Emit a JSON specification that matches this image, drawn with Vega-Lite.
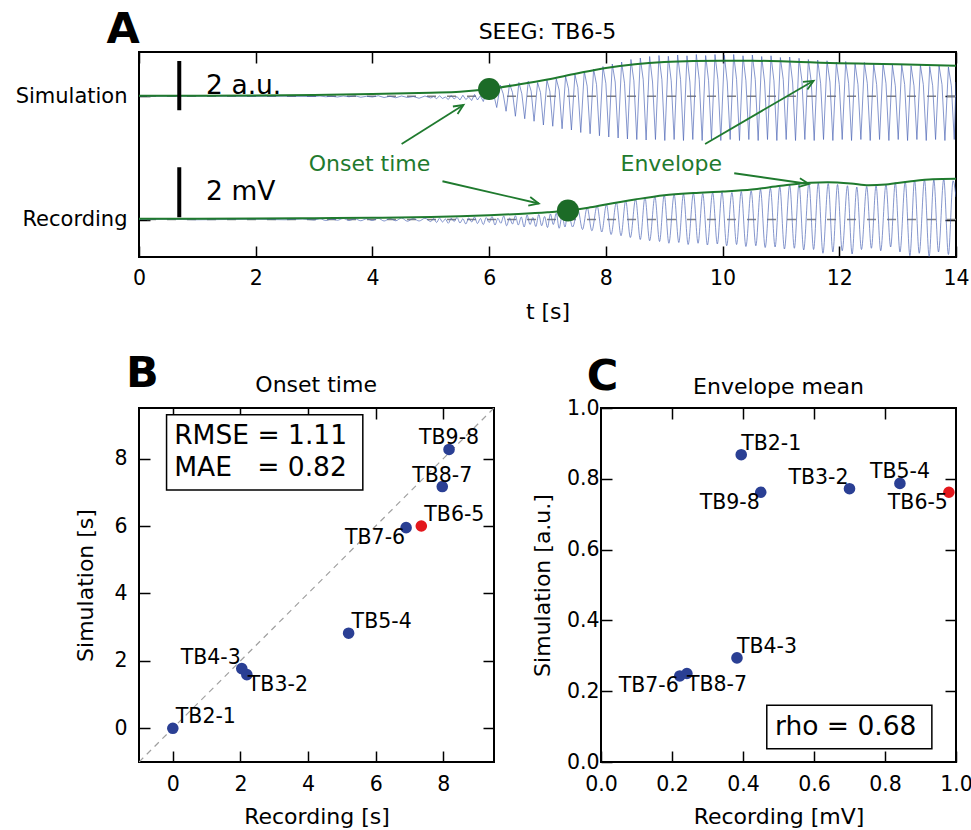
{
  "$schema": "https://vega.github.io/schema/vega-lite/v6.json",
  "background": "white",
  "padding": {"left": 14, "top": 7, "right": 0, "bottom": 0},
  "config": {
    "font": "DejaVu Sans",
    "view": {"stroke": "#000000", "strokeWidth": 2},
    "axis": {"domain": false, "grid": false, "ticks": true, "tickColor": "#000000", "tickWidth": 1.5, "tickSize": -11, "labelColor": "#000000", "labelFontSize": 20.5, "labelPadding": 23, "labelFlush": false, "labelOverlap": false, "titleColor": "#000000", "titleFontSize": 22, "titleFontWeight": "normal"}
  },
  "datasets": {
    "sim": [
      {"t":0,"v":4.93},{"t":0.5,"v":4.93},{"t":1,"v":4.935},{"t":1.5,"v":4.93},{"t":2,"v":4.925},{"t":2.5,"v":4.93},{"t":3,"v":4.92},
      {"t":3.1,"v":4.94},{"t":3.2,"v":4.91},{"t":3.3,"v":4.93},{"t":3.4,"v":4.9},{"t":3.5,"v":4.94},{"t":3.6,"v":4.91},{"t":3.7,"v":4.95},{"t":3.8,"v":4.89},{"t":3.9,"v":4.93},{"t":4,"v":4.9},{"t":4.1,"v":4.95},{"t":4.2,"v":4.88},{"t":4.3,"v":4.93},{"t":4.4,"v":4.87},{"t":4.5,"v":4.94},{"t":4.6,"v":4.88},{"t":4.7,"v":4.92},{"t":4.8,"v":4.85},{"t":4.9,"v":4.94},{"t":5,"v":4.86},
      {"t":5.05,"v":4.92},{"t":5.1,"v":4.83},{"t":5.15,"v":4.95},{"t":5.2,"v":4.84},{"t":5.25,"v":4.9},{"t":5.3,"v":4.8},{"t":5.35,"v":4.96},{"t":5.4,"v":4.82},{"t":5.45,"v":4.92},{"t":5.5,"v":4.78},{"t":5.55,"v":4.97},{"t":5.6,"v":4.8},{"t":5.65,"v":4.9},{"t":5.7,"v":4.76},{"t":5.75,"v":5.0},{"t":5.8,"v":4.78},{"t":5.85,"v":4.95},{"t":5.9,"v":4.72},{"t":5.95,"v":5.08},{"t":6,"v":4.8},
      {"t":6.03,"v":5.28},{"t":6.08,"v":4.98},{"t":6.13,"v":4.48},
      {"t":6.19,"v":5.38},{"t":6.24,"v":5.03},{"t":6.29,"v":4.33},
      {"t":6.35,"v":5.43},{"t":6.4,"v":5.08},{"t":6.45,"v":4.13},
      {"t":6.51,"v":5.48},{"t":6.56,"v":5.03},{"t":6.61,"v":4.03},
      {"t":6.67,"v":5.53},{"t":6.72,"v":5.13},{"t":6.77,"v":3.93},
      {"t":6.83,"v":5.48},{"t":6.88,"v":5.08},{"t":6.93,"v":3.78},
      {"t":6.99,"v":5.58},{"t":7.04,"v":5.13},{"t":7.09,"v":3.73},
      {"t":7.15,"v":5.63},{"t":7.2,"v":5.18},{"t":7.25,"v":3.63},
      {"t":7.31,"v":5.73},{"t":7.36,"v":5.23},{"t":7.41,"v":3.58},
      {"t":7.47,"v":5.8},{"t":7.52,"v":5.28},{"t":7.57,"v":3.48},
      {"t":7.63,"v":5.93},{"t":7.68,"v":5.33},{"t":7.73,"v":3.43},
      {"t":7.79,"v":6.02},{"t":7.84,"v":5.4},{"t":7.89,"v":3.35},
      {"t":7.95,"v":6.12},{"t":8.0,"v":5.45},{"t":8.05,"v":3.3},
      {"t":8.11,"v":6.22},{"t":8.16,"v":5.5},{"t":8.21,"v":3.26},
      {"t":8.27,"v":6.3},{"t":8.32,"v":5.45},{"t":8.37,"v":3.22},
      {"t":8.43,"v":6.4},{"t":8.48,"v":5.55},{"t":8.53,"v":3.2},
      {"t":8.59,"v":6.46},{"t":8.64,"v":5.6},{"t":8.69,"v":3.18},
      {"t":8.75,"v":6.52},{"t":8.8,"v":5.5},{"t":8.85,"v":3.2},
      {"t":8.91,"v":6.56},{"t":8.96,"v":5.6},{"t":9.01,"v":3.16},
      {"t":9.07,"v":6.53},{"t":9.12,"v":5.55},{"t":9.17,"v":3.2},
      {"t":9.23,"v":6.58},{"t":9.28,"v":5.6},{"t":9.33,"v":3.16},
      {"t":9.39,"v":6.55},{"t":9.44,"v":5.5},{"t":9.49,"v":3.2},
      {"t":9.55,"v":6.6},{"t":9.6,"v":5.6},{"t":9.65,"v":3.16},
      {"t":9.71,"v":6.56},{"t":9.76,"v":5.55},{"t":9.81,"v":3.2},
      {"t":9.87,"v":6.6},{"t":9.92,"v":5.6},{"t":9.97,"v":3.16},
      {"t":10.03,"v":6.57},{"t":10.08,"v":5.5},{"t":10.13,"v":3.2},
      {"t":10.19,"v":6.6},{"t":10.24,"v":5.6},{"t":10.29,"v":3.16},
      {"t":10.35,"v":6.55},{"t":10.4,"v":5.55},{"t":10.45,"v":3.2},
      {"t":10.51,"v":6.58},{"t":10.56,"v":5.6},{"t":10.61,"v":3.16},
      {"t":10.67,"v":6.52},{"t":10.72,"v":5.5},{"t":10.77,"v":3.2},
      {"t":10.83,"v":6.55},{"t":10.88,"v":5.55},{"t":10.93,"v":3.16},
      {"t":10.99,"v":6.48},{"t":11.04,"v":5.6},{"t":11.09,"v":3.2},
      {"t":11.15,"v":6.5},{"t":11.2,"v":5.5},{"t":11.25,"v":3.16},
      {"t":11.31,"v":6.45},{"t":11.36,"v":5.55},{"t":11.41,"v":3.2},
      {"t":11.47,"v":6.4},{"t":11.52,"v":5.5},{"t":11.57,"v":3.16},
      {"t":11.63,"v":6.38},{"t":11.68,"v":5.45},{"t":11.73,"v":3.2},
      {"t":11.79,"v":6.35},{"t":11.84,"v":5.5},{"t":11.89,"v":3.16},
      {"t":11.95,"v":6.3},{"t":12.0,"v":5.4},{"t":12.05,"v":3.2},
      {"t":12.11,"v":6.32},{"t":12.16,"v":5.45},{"t":12.21,"v":3.16},
      {"t":12.27,"v":6.25},{"t":12.32,"v":5.4},{"t":12.37,"v":3.2},
      {"t":12.43,"v":6.28},{"t":12.48,"v":5.45},{"t":12.53,"v":3.16},
      {"t":12.59,"v":6.22},{"t":12.64,"v":5.4},{"t":12.69,"v":3.2},
      {"t":12.75,"v":6.25},{"t":12.8,"v":5.45},{"t":12.85,"v":3.16},
      {"t":12.91,"v":6.18},{"t":12.96,"v":5.35},{"t":13.01,"v":3.2},
      {"t":13.07,"v":6.2},{"t":13.12,"v":5.4},{"t":13.17,"v":3.16},
      {"t":13.23,"v":6.15},{"t":13.28,"v":5.35},{"t":13.33,"v":3.2},
      {"t":13.39,"v":6.18},{"t":13.44,"v":5.4},{"t":13.49,"v":3.16},
      {"t":13.55,"v":6.12},{"t":13.6,"v":5.35},{"t":13.65,"v":3.2},
      {"t":13.71,"v":6.15},{"t":13.76,"v":5.4},{"t":13.81,"v":3.16},
      {"t":13.87,"v":6.1},{"t":13.92,"v":5.35},{"t":13.97,"v":3.2},
      {"t":14.0,"v":5.5}
    ],
    "rec": [
      {"t":0,"v":0},{"t":0.5,"v":0.01},{"t":1,"v":-0.01},{"t":1.5,"v":0},{"t":2,"v":0.01},{"t":2.5,"v":-0.01},{"t":2.8,"v":0.02},{"t":3,"v":-0.02},
      {"t":3.1,"v":0.03},{"t":3.2,"v":-0.04},{"t":3.3,"v":0.02},{"t":3.4,"v":-0.03},{"t":3.5,"v":0.04},{"t":3.6,"v":-0.04},{"t":3.7,"v":0.03},{"t":3.8,"v":-0.05},{"t":3.9,"v":0.03},{"t":4,"v":-0.04},
      {"t":4.1,"v":0.05},{"t":4.2,"v":-0.06},{"t":4.3,"v":0.04},{"t":4.4,"v":-0.05},{"t":4.5,"v":0.06},{"t":4.6,"v":-0.07},{"t":4.7,"v":0.04},{"t":4.8,"v":-0.06},{"t":4.9,"v":0.05},{"t":5,"v":-0.08},
      {"t":5.05,"v":0.04},{"t":5.1,"v":-0.12},{"t":5.15,"v":0.06},{"t":5.2,"v":-0.1},{"t":5.25,"v":0.02},{"t":5.3,"v":-0.15},{"t":5.35,"v":0.05},{"t":5.4,"v":-0.08},{"t":5.45,"v":0.08},{"t":5.5,"v":-0.14},{"t":5.55,"v":0.03},{"t":5.6,"v":-0.18},{"t":5.65,"v":0.06},{"t":5.7,"v":-0.1},{"t":5.75,"v":0.1},{"t":5.8,"v":-0.16},{"t":5.85,"v":0.04},{"t":5.9,"v":-0.2},{"t":5.95,"v":0.08},{"t":6,"v":-0.12},
      {"t":6.05,"v":0.12},{"t":6.1,"v":-0.22},{"t":6.15,"v":0.05},{"t":6.2,"v":-0.15},{"t":6.25,"v":0.14},{"t":6.3,"v":-0.25},{"t":6.35,"v":0.06},{"t":6.4,"v":-0.18},{"t":6.45,"v":0.15},{"t":6.5,"v":-0.22},{"t":6.55,"v":0.1},{"t":6.6,"v":-0.3},{"t":6.65,"v":0.18},{"t":6.7,"v":-0.2},{"t":6.75,"v":0.08},{"t":6.8,"v":-0.28},{"t":6.85,"v":0.2},{"t":6.9,"v":-0.25},{"t":6.95,"v":0.12},{"t":7,"v":-0.32},{"t":7.05,"v":0.22},{"t":7.1,"v":-0.2},{"t":7.15,"v":0.25},{"t":7.2,"v":-0.35},{"t":7.25,"v":0.15},{"t":7.3,"v":-0.3},
      {"t":7.35,"v":0.35},{"t":7.43,"v":-0.3},{"t":7.52,"v":0.4},{"t":7.6,"v":-0.4},{"t":7.68,"v":0.48},{"t":7.76,"v":-0.45},{"t":7.85,"v":0.55},{"t":7.93,"v":-0.5},{"t":8.01,"v":0.6},{"t":8.09,"v":-0.6},{"t":8.18,"v":0.68},{"t":8.26,"v":-0.65},{"t":8.34,"v":0.75},{"t":8.42,"v":-0.72},{"t":8.51,"v":0.82},{"t":8.59,"v":-0.8},{"t":8.67,"v":0.88},{"t":8.75,"v":-0.85},{"t":8.84,"v":0.92},{"t":8.92,"v":-0.88},
      {"t":9.0,"v":0.98},{"t":9.08,"v":-0.95},{"t":9.17,"v":1.0},{"t":9.25,"v":-0.92},{"t":9.33,"v":1.02},{"t":9.41,"v":-1.0},{"t":9.5,"v":1.05},{"t":9.58,"v":-0.95},{"t":9.66,"v":1.04},{"t":9.74,"v":-1.02},{"t":9.83,"v":1.08},{"t":9.91,"v":-0.98},{"t":9.99,"v":1.1},{"t":10.07,"v":-1.05},{"t":10.16,"v":1.08},{"t":10.24,"v":-1.0},{"t":10.32,"v":1.12},{"t":10.4,"v":-1.08},{"t":10.49,"v":1.15},{"t":10.57,"v":-1.05},
      {"t":10.65,"v":1.2},{"t":10.73,"v":-1.12},{"t":10.82,"v":1.25},{"t":10.9,"v":-1.1},{"t":10.98,"v":1.32},{"t":11.06,"v":-1.18},{"t":11.15,"v":1.38},{"t":11.23,"v":-1.15},{"t":11.31,"v":1.42},{"t":11.39,"v":-1.22},{"t":11.48,"v":1.46},{"t":11.56,"v":-1.2},{"t":11.64,"v":1.45},{"t":11.72,"v":-1.35},{"t":11.81,"v":1.44},{"t":11.89,"v":-1.3},{"t":11.97,"v":1.4},{"t":12.05,"v":-1.25},
      {"t":12.14,"v":1.35},{"t":12.22,"v":-1.38},{"t":12.3,"v":1.3},{"t":12.38,"v":-1.2},{"t":12.47,"v":1.32},{"t":12.55,"v":-1.15},{"t":12.63,"v":1.35},{"t":12.71,"v":-1.25},{"t":12.8,"v":1.4},{"t":12.88,"v":-1.1},{"t":12.96,"v":1.48},{"t":13.04,"v":-1.3},{"t":13.13,"v":1.52},{"t":13.21,"v":-1.45},{"t":13.29,"v":1.58},{"t":13.37,"v":-1.35},{"t":13.46,"v":1.6},{"t":13.54,"v":-1.48},{"t":13.62,"v":1.58},{"t":13.7,"v":-1.3},{"t":13.79,"v":1.62},{"t":13.87,"v":-1.4},{"t":13.95,"v":1.55},{"t":14.0,"v":0.9}
    ],
    "env": [
      {"trace":"Simulation","t":0,"v":4.95},{"trace":"Simulation","t":1,"v":4.95},{"trace":"Simulation","t":2,"v":4.96},{"trace":"Simulation","t":3,"v":4.98},{"trace":"Simulation","t":4,"v":5.02},{"trace":"Simulation","t":5,"v":5.07},{"trace":"Simulation","t":5.5,"v":5.11},{"trace":"Simulation","t":6,"v":5.22},{"trace":"Simulation","t":6.5,"v":5.4},{"trace":"Simulation","t":7,"v":5.6},{"trace":"Simulation","t":7.5,"v":5.84},{"trace":"Simulation","t":8,"v":6.06},{"trace":"Simulation","t":8.5,"v":6.21},{"trace":"Simulation","t":9,"v":6.3},{"trace":"Simulation","t":9.5,"v":6.34},{"trace":"Simulation","t":10,"v":6.35},{"trace":"Simulation","t":10.5,"v":6.35},{"trace":"Simulation","t":11,"v":6.33},{"trace":"Simulation","t":11.5,"v":6.29},{"trace":"Simulation","t":12,"v":6.25},{"trace":"Simulation","t":12.5,"v":6.23},{"trace":"Simulation","t":13,"v":6.21},{"trace":"Simulation","t":13.5,"v":6.18},{"trace":"Simulation","t":14,"v":6.15},
      {"trace":"Recording","t":0,"v":0.03},{"trace":"Recording","t":1,"v":0.03},{"trace":"Recording","t":2,"v":0.04},{"trace":"Recording","t":3,"v":0.05},{"trace":"Recording","t":4,"v":0.07},{"trace":"Recording","t":5,"v":0.1},{"trace":"Recording","t":5.5,"v":0.13},{"trace":"Recording","t":6,"v":0.17},{"trace":"Recording","t":6.5,"v":0.22},{"trace":"Recording","t":7,"v":0.29},{"trace":"Recording","t":7.35,"v":0.36},{"trace":"Recording","t":7.7,"v":0.47},{"trace":"Recording","t":8,"v":0.6},{"trace":"Recording","t":8.5,"v":0.8},{"trace":"Recording","t":9,"v":0.97},{"trace":"Recording","t":9.5,"v":1.06},{"trace":"Recording","t":10,"v":1.12},{"trace":"Recording","t":10.5,"v":1.2},{"trace":"Recording","t":11,"v":1.35},{"trace":"Recording","t":11.5,"v":1.47},{"trace":"Recording","t":11.8,"v":1.49},{"trace":"Recording","t":12.2,"v":1.44},{"trace":"Recording","t":12.5,"v":1.37},{"trace":"Recording","t":12.8,"v":1.4},{"trace":"Recording","t":13.2,"v":1.52},{"trace":"Recording","t":13.6,"v":1.61},{"trace":"Recording","t":14,"v":1.63}
    ],
    "onsetDots": [{"trace":"Simulation","t":6.0,"v":5.22},{"trace":"Recording","t":7.35,"v":0.36}],
    "arrows": [
      {"label":"Onset time","target":"Simulation","t":4.5,"v":3.02,"t2":5.56,"v2":4.58},
      {"label":"Onset time","target":"Recording","t":5.2,"v":1.53,"t2":6.85,"v2":0.64},
      {"label":"Envelope","target":"Simulation","t":9.7,"v":3.02,"t2":11.56,"v2":5.55},
      {"label":"Envelope","target":"Recording","t":10.2,"v":1.85,"t2":11.48,"v2":1.42}
    ],
    "scalebars": [{"label":"2 a.u.","t":0.69,"lo":4.37,"hi":6.34},{"label":"2 mV","t":0.69,"lo":0.09,"hi":2.09}],
    "onset": [
      {"channel":"TB2-1","recording":0,"simulation":0},
      {"channel":"TB3-2","recording":2.19,"simulation":1.59},
      {"channel":"TB4-3","recording":2.04,"simulation":1.77},
      {"channel":"TB5-4","recording":5.2,"simulation":2.82},
      {"channel":"TB6-5","recording":7.35,"simulation":6.0},
      {"channel":"TB7-6","recording":6.9,"simulation":5.95},
      {"channel":"TB8-7","recording":7.97,"simulation":7.17},
      {"channel":"TB9-8","recording":8.17,"simulation":8.27}
    ],
    "envmean": [
      {"channel":"TB2-1","recording":0.395,"simulation":0.868},
      {"channel":"TB3-2","recording":0.7,"simulation":0.772},
      {"channel":"TB4-3","recording":0.383,"simulation":0.294},
      {"channel":"TB5-4","recording":0.842,"simulation":0.787},
      {"channel":"TB6-5","recording":0.98,"simulation":0.762},
      {"channel":"TB7-6","recording":0.222,"simulation":0.243},
      {"channel":"TB8-7","recording":0.242,"simulation":0.25},
      {"channel":"TB9-8","recording":0.45,"simulation":0.762}
    ]
  },
  "vconcat": [
    {
      "width": 817,
      "height": 205,
      "layer": [
        {
          "data": {"values": [{"trace":"Simulation","base":4.93},{"trace":"Recording","base":0}]},
          "mark": {"type": "rule", "stroke": "#808080", "strokeWidth": 1.5, "strokeDash": [9, 11]},
          "encoding": {"y": {"field": "base", "type": "quantitative", "scale": {"domain": [-1.5, 6.7], "nice": false, "zero": false}, "axis": null}}
        },
        {
          "data": {"name": "sim"},
          "mark": {"type": "line", "stroke": "#4a63b5", "strokeWidth": 0.8, "opacity": 0.85, "clip": true},
          "encoding": {
            "x": {"field": "t", "type": "quantitative", "scale": {"domain": [0, 14], "nice": false, "zero": false}, "axis": {"orient": "bottom", "values": [0,2,4,6,8,10,12,14], "title": "t [s]", "labelPadding": 22, "titlePadding": 13}},
            "y": {"field": "v", "type": "quantitative", "axis": {"orient": "left", "values": [0, 4.93], "labelExpr": "datum.value > 2 ? 'Simulation' : 'Recording'", "title": null, "labelFontSize": 21}}
          }
        },
        {
          "data": {"name": "rec"},
          "mark": {"type": "line", "stroke": "#4a63b5", "strokeWidth": 0.8, "opacity": 0.85, "interpolate": "monotone", "clip": true},
          "encoding": {
            "x": {"field": "t", "type": "quantitative", "axis": null},
            "y": {"field": "v", "type": "quantitative", "axis": null}
          }
        },
        {
          "data": {"name": "env"},
          "mark": {"type": "line", "stroke": "#1f7a2e", "strokeWidth": 2, "interpolate": "monotone"},
          "encoding": {
            "x": {"field": "t", "type": "quantitative", "axis": {"orient": "top", "values": [0,2,4,6,8,10,12,14], "labels": false, "title": null}},
            "y": {"field": "v", "type": "quantitative", "axis": {"orient": "right", "values": [0, 4.93], "labels": false, "title": null}},
            "detail": {"field": "trace"}
          }
        },
        {
          "data": {"name": "onsetDots"},
          "mark": {"type": "point", "filled": true, "shape": "circle", "size": 490, "color": "#1c6b27", "opacity": 1},
          "encoding": {
            "x": {"field": "t", "type": "quantitative", "axis": null},
            "y": {"field": "v", "type": "quantitative", "axis": null}
          }
        },
        {
          "data": {"name": "scalebars"},
          "mark": {"type": "rule", "stroke": "#000000", "strokeWidth": 4},
          "encoding": {
            "x": {"field": "t", "type": "quantitative", "axis": null},
            "y": {"field": "lo", "type": "quantitative", "axis": null},
            "y2": {"field": "hi"}
          }
        },
        {
          "data": {"values": [{}]},
          "mark": {"type": "text", "text": "2 a.u.", "fontSize": 26.5, "align": "left", "baseline": "alphabetic", "color": "#000000"},
          "encoding": {"x": {"datum": 1.15, "type": "quantitative", "axis": null}, "y": {"datum": 5.02, "type": "quantitative", "axis": null}}
        },
        {
          "data": {"values": [{}]},
          "mark": {"type": "text", "text": "2 mV", "fontSize": 26.5, "align": "left", "baseline": "alphabetic", "color": "#000000"},
          "encoding": {"x": {"datum": 1.15, "type": "quantitative", "axis": null}, "y": {"datum": 0.79, "type": "quantitative", "axis": null}}
        },
        {
          "data": {"name": "arrows"},
          "mark": {"type": "rule", "stroke": "#1f7a2e", "strokeWidth": 1.8},
          "encoding": {
            "x": {"field": "t", "type": "quantitative", "axis": null},
            "y": {"field": "v", "type": "quantitative", "axis": null},
            "x2": {"field": "t2"},
            "y2": {"field": "v2"}
          }
        },
        {
          "data": {"name": "arrows"},
          "transform": [{"filter": "datum.label === 'Onset time' && datum.target === 'Simulation'"}],
          "mark": {"type": "point", "shape": "M-1,-0.45L0,0L-1,0.45", "filled": false, "size": 380, "stroke": "#1f7a2e", "strokeWidth": 1.8, "opacity": 1, "angle": 327.7},
          "encoding": {"x": {"field": "t2", "type": "quantitative", "axis": null}, "y": {"field": "v2", "type": "quantitative", "axis": null}}
        },
        {
          "data": {"name": "arrows"},
          "transform": [{"filter": "datum.label === 'Onset time' && datum.target === 'Recording'"}],
          "mark": {"type": "point", "shape": "M-1,-0.45L0,0L-1,0.45", "filled": false, "size": 380, "stroke": "#1f7a2e", "strokeWidth": 1.8, "opacity": 1, "angle": 13},
          "encoding": {"x": {"field": "t2", "type": "quantitative", "axis": null}, "y": {"field": "v2", "type": "quantitative", "axis": null}}
        },
        {
          "data": {"name": "arrows"},
          "transform": [{"filter": "datum.label === 'Envelope' && datum.target === 'Simulation'"}],
          "mark": {"type": "point", "shape": "M-1,-0.45L0,0L-1,0.45", "filled": false, "size": 380, "stroke": "#1f7a2e", "strokeWidth": 1.8, "opacity": 1, "angle": 329.7},
          "encoding": {"x": {"field": "t2", "type": "quantitative", "axis": null}, "y": {"field": "v2", "type": "quantitative", "axis": null}}
        },
        {
          "data": {"name": "arrows"},
          "transform": [{"filter": "datum.label === 'Envelope' && datum.target === 'Recording'"}],
          "mark": {"type": "point", "shape": "M-1,-0.45L0,0L-1,0.45", "filled": false, "size": 380, "stroke": "#1f7a2e", "strokeWidth": 1.8, "opacity": 1, "angle": 8.2},
          "encoding": {"x": {"field": "t2", "type": "quantitative", "axis": null}, "y": {"field": "v2", "type": "quantitative", "axis": null}}
        },
        {
          "data": {"values": [{"label": "Onset time", "t": 3.95, "v": 1.95}, {"label": "Envelope", "t": 9.12, "v": 1.95}]},
          "mark": {"type": "text", "fontSize": 22, "align": "center", "baseline": "alphabetic", "color": "#1f7a2e"},
          "encoding": {"x": {"field": "t", "type": "quantitative", "axis": null}, "y": {"field": "v", "type": "quantitative", "axis": null}, "text": {"field": "label"}}
        },
        {
          "data": {"values": [{}]},
          "mark": {"type": "text", "text": "SEEG: TB6-5", "fontSize": 22, "align": "center", "baseline": "alphabetic", "color": "#000000"},
          "encoding": {"x": {"datum": 7.0, "type": "quantitative", "axis": null}, "y": {"datum": 7.22, "type": "quantitative", "axis": null}}
        },
        {
          "data": {"values": [{}]},
          "mark": {"type": "text", "text": "A", "fontSize": 43, "fontWeight": "bold", "align": "center", "baseline": "alphabetic", "color": "#000000"},
          "encoding": {"x": {"datum": -0.27, "type": "quantitative", "axis": null}, "y": {"datum": 7.06, "type": "quantitative", "axis": null}}
        }
      ]
    },
    {
      "hconcat": [
        {
          "width": 355,
          "height": 354,
          "layer": [
            {
              "data": {"values": [{"ref": -1}, {"ref": 9.5}]},
              "mark": {"type": "line", "stroke": "#a0a0a0", "strokeWidth": 1.2, "strokeDash": [6, 5], "clip": true},
              "encoding": {
                "x": {"field": "ref", "type": "quantitative", "scale": {"domain": [-1, 9.5], "nice": false, "zero": false}, "axis": {"orient": "top", "values": [0,2,4,6,8], "labels": false, "title": null}},
                "y": {"field": "ref", "type": "quantitative", "scale": {"domain": [-1, 9.5], "nice": false, "zero": false}, "axis": {"orient": "right", "values": [0,2,4,6,8], "labels": false, "title": null}}
              }
            },
            {
              "data": {"name": "onset"},
              "mark": {"type": "point", "filled": true, "shape": "circle", "size": 135, "opacity": 1},
              "encoding": {
                "x": {"field": "recording", "type": "quantitative", "axis": {"orient": "bottom", "values": [0,2,4,6,8], "title": "Recording [s]", "titlePadding": 12}},
                "y": {"field": "simulation", "type": "quantitative", "axis": {"orient": "left", "values": [0,2,4,6,8], "title": "Simulation [s]", "titlePadding": 16}},
                "color": {"condition": {"test": "datum.channel === 'TB6-5'", "value": "#e3181d"}, "value": "#2a3f94"}
              }
            },
            {
              "data": {"name": "onset"},
              "transform": [{"filter": {"field": "channel", "oneOf": ["TB2-1", "TB5-4", "TB6-5"]}}],
              "mark": {"type": "text", "fontSize": 20.5, "align": "left", "baseline": "alphabetic", "dx": 3, "dy": -5, "color": "#000000"},
              "encoding": {"x": {"field": "recording", "type": "quantitative", "axis": null}, "y": {"field": "simulation", "type": "quantitative", "axis": null}, "text": {"field": "channel"}}
            },
            {
              "data": {"name": "onset"},
              "transform": [{"filter": {"field": "channel", "oneOf": ["TB4-3"]}}],
              "mark": {"type": "text", "fontSize": 20.5, "align": "right", "baseline": "alphabetic", "dx": -1, "dy": -5, "color": "#000000"},
              "encoding": {"x": {"field": "recording", "type": "quantitative", "axis": null}, "y": {"field": "simulation", "type": "quantitative", "axis": null}, "text": {"field": "channel"}}
            },
            {
              "data": {"name": "onset"},
              "transform": [{"filter": {"field": "channel", "oneOf": ["TB3-2"]}}],
              "mark": {"type": "text", "fontSize": 20.5, "align": "left", "baseline": "alphabetic", "dx": 1, "dy": 16, "color": "#000000"},
              "encoding": {"x": {"field": "recording", "type": "quantitative", "axis": null}, "y": {"field": "simulation", "type": "quantitative", "axis": null}, "text": {"field": "channel"}}
            },
            {
              "data": {"name": "onset"},
              "transform": [{"filter": {"field": "channel", "oneOf": ["TB7-6"]}}],
              "mark": {"type": "text", "fontSize": 20.5, "align": "right", "baseline": "alphabetic", "dx": -1, "dy": 16.5, "color": "#000000"},
              "encoding": {"x": {"field": "recording", "type": "quantitative", "axis": null}, "y": {"field": "simulation", "type": "quantitative", "axis": null}, "text": {"field": "channel"}}
            },
            {
              "data": {"name": "onset"},
              "transform": [{"filter": {"field": "channel", "oneOf": ["TB8-7", "TB9-8"]}}],
              "mark": {"type": "text", "fontSize": 20.5, "align": "center", "baseline": "alphabetic", "dx": 0, "dy": -5, "color": "#000000"},
              "encoding": {"x": {"field": "recording", "type": "quantitative", "axis": null}, "y": {"field": "simulation", "type": "quantitative", "axis": null}, "text": {"field": "channel"}}
            },
            {
              "data": {"values": [{}]},
              "mark": {"type": "rect", "fill": "#ffffff", "stroke": "#000000", "strokeWidth": 1.5},
              "encoding": {
                "x": {"datum": -0.185, "type": "quantitative", "axis": null},
                "x2": {"datum": 5.62},
                "y": {"datum": 7.07, "type": "quantitative", "axis": null},
                "y2": {"datum": 9.3}
              }
            },
            {
              "data": {"values": [{}]},
              "mark": {"type": "text", "text": "RMSE = 1.11", "fontSize": 26.5, "align": "left", "baseline": "alphabetic", "color": "#000000"},
              "encoding": {"x": {"datum": 0.04, "type": "quantitative", "axis": null}, "y": {"datum": 8.42, "type": "quantitative", "axis": null}}
            },
            {
              "data": {"values": [{}]},
              "mark": {"type": "text", "text": "MAE\u00a0\u00a0\u00a0= 0.82", "fontSize": 26.5, "align": "left", "baseline": "alphabetic", "color": "#000000"},
              "encoding": {"x": {"datum": 0.04, "type": "quantitative", "axis": null}, "y": {"datum": 7.49, "type": "quantitative", "axis": null}}
            },
            {
              "data": {"values": [{}]},
              "mark": {"type": "text", "text": "Onset time", "fontSize": 22, "align": "center", "baseline": "alphabetic", "color": "#000000"},
              "encoding": {"x": {"datum": 4.24, "type": "quantitative", "axis": null}, "y": {"datum": 9.98, "type": "quantitative", "axis": null}}
            },
            {
              "data": {"values": [{}]},
              "mark": {"type": "text", "text": "B", "fontSize": 43, "fontWeight": "bold", "align": "center", "baseline": "alphabetic", "color": "#000000"},
              "encoding": {"x": {"datum": -0.9, "type": "quantitative", "axis": null}, "y": {"datum": 10.13, "type": "quantitative", "axis": null}}
            }
          ]
        },
        {
          "width": 355,
          "height": 354,
          "layer": [
            {
              "data": {"name": "envmean"},
              "mark": {"type": "point", "filled": true, "shape": "circle", "size": 135, "opacity": 1},
              "encoding": {
                "x": {"field": "recording", "type": "quantitative", "scale": {"domain": [0, 1], "nice": false, "zero": false}, "axis": {"orient": "bottom", "values": [0,0.2,0.4,0.6,0.8,1.0], "format": ".1f", "title": "Recording [mV]", "titlePadding": 12}},
                "y": {"field": "simulation", "type": "quantitative", "scale": {"domain": [0, 1], "nice": false, "zero": false}, "axis": {"orient": "left", "values": [0,0.2,0.4,0.6,0.8,1.0], "format": ".1f", "title": "Simulation [a.u.]", "labelPadding": 13, "titlePadding": 12}},
                "color": {"condition": {"test": "datum.channel === 'TB6-5'", "value": "#e3181d"}, "value": "#2a3f94"}
              }
            },
            {
              "data": {"name": "envmean"},
              "mark": {"type": "point", "opacity": 0},
              "encoding": {
                "x": {"field": "recording", "type": "quantitative", "axis": {"orient": "top", "values": [0.2,0.4,0.6,0.8], "labels": false, "title": null}},
                "y": {"field": "simulation", "type": "quantitative", "axis": {"orient": "right", "values": [0.2,0.4,0.6,0.8], "labels": false, "title": null}}
              }
            },
            {
              "data": {"name": "envmean"},
              "transform": [{"filter": {"field": "channel", "oneOf": ["TB2-1", "TB4-3"]}}],
              "mark": {"type": "text", "fontSize": 20.5, "align": "left", "baseline": "alphabetic", "dx": 0, "dy": -5, "color": "#000000"},
              "encoding": {"x": {"field": "recording", "type": "quantitative", "axis": null}, "y": {"field": "simulation", "type": "quantitative", "axis": null}, "text": {"field": "channel"}}
            },
            {
              "data": {"name": "envmean"},
              "transform": [{"filter": {"field": "channel", "oneOf": ["TB9-8", "TB6-5", "TB7-6"]}}],
              "mark": {"type": "text", "fontSize": 20.5, "align": "right", "baseline": "alphabetic", "dx": -1, "dy": 16.5, "color": "#000000"},
              "encoding": {"x": {"field": "recording", "type": "quantitative", "axis": null}, "y": {"field": "simulation", "type": "quantitative", "axis": null}, "text": {"field": "channel"}}
            },
            {
              "data": {"name": "envmean"},
              "transform": [{"filter": {"field": "channel", "oneOf": ["TB3-2"]}}],
              "mark": {"type": "text", "fontSize": 20.5, "align": "right", "baseline": "alphabetic", "dx": -1, "dy": -5, "color": "#000000"},
              "encoding": {"x": {"field": "recording", "type": "quantitative", "axis": null}, "y": {"field": "simulation", "type": "quantitative", "axis": null}, "text": {"field": "channel"}}
            },
            {
              "data": {"name": "envmean"},
              "transform": [{"filter": {"field": "channel", "oneOf": ["TB5-4"]}}],
              "mark": {"type": "text", "fontSize": 20.5, "align": "center", "baseline": "alphabetic", "dx": 0, "dy": -5, "color": "#000000"},
              "encoding": {"x": {"field": "recording", "type": "quantitative", "axis": null}, "y": {"field": "simulation", "type": "quantitative", "axis": null}, "text": {"field": "channel"}}
            },
            {
              "data": {"name": "envmean"},
              "transform": [{"filter": {"field": "channel", "oneOf": ["TB8-7"]}}],
              "mark": {"type": "text", "fontSize": 20.5, "align": "left", "baseline": "alphabetic", "dx": 0, "dy": 17, "color": "#000000"},
              "encoding": {"x": {"field": "recording", "type": "quantitative", "axis": null}, "y": {"field": "simulation", "type": "quantitative", "axis": null}, "text": {"field": "channel"}}
            },
            {
              "data": {"values": [{}]},
              "mark": {"type": "rect", "fill": "#ffffff", "stroke": "#000000", "strokeWidth": 1.5},
              "encoding": {
                "x": {"datum": 0.467, "type": "quantitative", "axis": null},
                "x2": {"datum": 0.932},
                "y": {"datum": 0.0376, "type": "quantitative", "axis": null},
                "y2": {"datum": 0.16}
              }
            },
            {
              "data": {"values": [{}]},
              "mark": {"type": "text", "text": "rho = 0.68", "fontSize": 26.5, "align": "left", "baseline": "alphabetic", "color": "#000000"},
              "encoding": {"x": {"datum": 0.49, "type": "quantitative", "axis": null}, "y": {"datum": 0.075, "type": "quantitative", "axis": null}}
            },
            {
              "data": {"values": [{}]},
              "mark": {"type": "text", "text": "Envelope mean", "fontSize": 22, "align": "center", "baseline": "alphabetic", "color": "#000000"},
              "encoding": {"x": {"datum": 0.5, "type": "quantitative", "axis": null}, "y": {"datum": 1.04, "type": "quantitative", "axis": null}}
            },
            {
              "data": {"values": [{}]},
              "mark": {"type": "text", "text": "C", "fontSize": 43, "fontWeight": "bold", "align": "center", "baseline": "alphabetic", "color": "#000000"},
              "encoding": {"x": {"datum": 0.004, "type": "quantitative", "axis": null}, "y": {"datum": 1.052, "type": "quantitative", "axis": null}}
            }
          ]
        }
      ],
      "spacing": 107,
      "bounds": "flush"
    }
  ],
  "spacing": 151,
  "bounds": "flush"
}
